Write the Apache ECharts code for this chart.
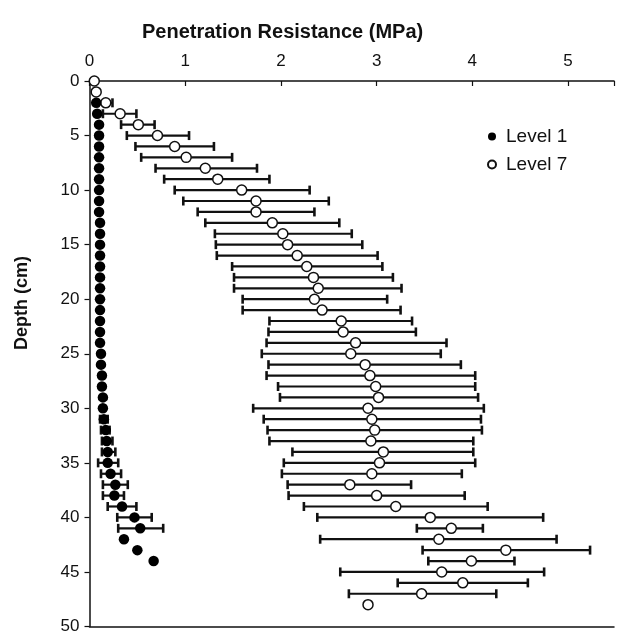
<!DOCTYPE html>
<html>
<head>
<meta charset="utf-8">
<script src="https://cdn.jsdelivr.net/npm/echarts@6/dist/echarts.min.js"></script>
<style>
  html, body { margin: 0; padding: 0; background: #fff; }
  #main { width: 617px; height: 635px; }
</style>
</head>
<body>
<div id="main"></div>
<script>
// depth (cm) of each Level 7 reading
var depth7 = [0,1,2,3,4,5,6,7,8,9,10,11,12,13,14,15,16,17,18,19,20,21,22,23,24,
  25,26,27,28,29,30,31,32,33,34,35,36,37,38,39,40,41,42,43,44,45,46,47,48];
var mean7 = [0.05,0.07,0.17,0.32,0.51,0.71,0.89,1.01,1.21,1.34,1.59,1.74,1.74,1.91,2.02,2.07,2.17,2.27,2.34,2.39,2.35,2.43,2.63,2.65,2.78,
  2.73,2.88,2.93,2.99,3.02,2.91,2.95,2.98,2.94,3.07,3.03,2.95,2.72,3.00,3.20,3.56,3.78,3.65,4.35,3.99,3.68,3.90,3.47,2.91];
var low7 = [null,null,0.09,0.14,0.33,0.39,0.48,0.54,0.69,0.78,0.89,0.98,1.13,1.21,1.31,1.32,1.33,1.49,1.51,1.51,1.60,1.60,1.88,1.87,1.85,
  1.80,1.87,1.85,1.97,1.99,1.71,1.82,1.86,1.88,2.12,2.03,2.01,2.07,2.08,2.24,2.38,3.42,2.41,3.48,3.54,2.62,3.22,2.71,null];
var high7 = [null,null,0.24,0.49,0.68,1.04,1.30,1.49,1.75,1.88,2.30,2.50,2.35,2.61,2.74,2.85,3.01,3.06,3.17,3.26,3.11,3.25,3.37,3.41,3.73,
  3.67,3.88,4.03,4.03,4.06,4.12,4.09,4.10,4.01,4.01,4.03,3.89,3.36,3.92,4.16,4.74,4.11,4.88,5.23,4.44,4.75,4.58,4.25,null];

// Level 1 readings
var depth1 = [2,3,4,5,6,7,8,9,10,11,12,13,14,15,16,17,18,19,20,21,22,23,24,
  25,26,27,28,29,30,31,32,33,34,35,36,37,38,39,40,41,42,43,44];
var mean1 = [0.07,0.08,0.10,0.10,0.10,0.10,0.10,0.10,0.10,0.10,0.10,0.11,0.11,0.11,0.11,0.11,0.11,0.11,0.11,0.11,0.11,0.11,0.11,
  0.12,0.12,0.13,0.13,0.14,0.14,0.15,0.17,0.18,0.19,0.19,0.22,0.27,0.26,0.34,0.47,0.53,0.36,0.50,0.67];
var low1 = [null,null,null,null,null,null,null,null,null,null,null,null,null,null,null,null,null,null,null,null,null,null,null,
  null,null,null,null,null,null,0.11,0.12,0.13,0.13,0.09,0.12,0.14,0.14,0.19,0.29,0.30,null,null,null];
var high1 = [null,null,null,null,null,null,null,null,null,null,null,null,null,null,null,null,null,null,null,null,null,null,null,
  null,null,null,null,null,null,0.19,0.21,0.24,0.27,0.30,0.33,0.40,0.36,0.49,0.65,0.77,null,null,null];

var xTicks = [0, 1, 2, 3, 4, 5];
var yTicks = [0, 5, 10, 15, 20, 25, 30, 35, 40, 45, 50];

var fontName = 'Liberation Sans';

function points(xs, ys) {
    var out = [];
    for (var i = 0; i < xs.length; i++) {
        out.push([xs[i], ys[i]]);
    }
    return out;
}

function bars(depths, lows, highs) {
    var out = [];
    for (var i = 0; i < depths.length; i++) {
        if (lows[i] != null && highs[i] != null) {
            out.push([depths[i], lows[i], highs[i]]);
        }
    }
    return out;
}

// horizontal error bar with a cap at each end
function renderBar(params, api) {
    var d = api.value(0);
    var a = api.coord([api.value(1), d]);
    var b = api.coord([api.value(2), d]);
    var h = 4.5;
    var cap = { stroke: '#111', lineWidth: 2.6 };
    return {
        type: 'group',
        children: [
            { type: 'line', shape: { x1: a[0], y1: a[1], x2: b[0], y2: b[1] }, style: { stroke: '#111', lineWidth: 2.2 } },
            { type: 'line', shape: { x1: a[0], y1: a[1] - h, x2: a[0], y2: a[1] + h }, style: cap },
            { type: 'line', shape: { x1: b[0], y1: b[1] - h, x2: b[0], y2: b[1] + h }, style: cap }
        ]
    };
}

var myChart = echarts.init(document.getElementById('main'));

var option = {
    backgroundColor: '#fff',
    animation: false,
    title: {
        text: 'Penetration Resistance (MPa)',
        left: 137,
        top: 17,
        textStyle: { fontFamily: fontName, fontSize: 20, fontWeight: 'bold', color: '#111' }
    },
    graphic: [{
        type: 'text',
        x: 22,
        y: 303,
        rotation: Math.PI / 2,
        style: {
            text: 'Depth (cm)',
            fill: '#111',
            font: 'bold 18px "Liberation Sans"',
            textAlign: 'center',
            textVerticalAlign: 'middle'
        }
    }],
    legend: {
        orient: 'vertical',
        left: 482,
        top: 122,
        itemWidth: 8,
        itemHeight: 8,
        itemGap: 9,
        textStyle: { fontFamily: fontName, fontSize: 19, color: '#111', padding: [0, 0, 0, 5] },
        data: [
            { name: 'Level 1', icon: 'circle' },
            { name: 'Level 7', icon: 'circle' }
        ]
    },
    grid: { left: 89.5, top: 81, right: 0, bottom: 7 },
    xAxis: [{
        type: 'value',
        position: 'top',
        min: 0,
        max: 5.48,
        interval: 1,
        splitLine: { show: false },
        axisLine: { lineStyle: { color: '#111', width: 1.5 } },
        axisTick: { inside: true, length: 5, lineStyle: { color: '#111', width: 1.2 } },
        axisLabel: {
            margin: 11,
            fontFamily: fontName,
            fontSize: 17,
            color: '#111',
            formatter: function (v) { return xTicks.indexOf(v) >= 0 ? String(v) : ''; }
        }
    }, {
        type: 'value',
        position: 'bottom',
        min: 0,
        max: 5.48,
        splitLine: { show: false },
        axisLine: { lineStyle: { color: '#111', width: 1.5 } },
        axisTick: { show: false },
        axisLabel: { show: false }
    }],
    yAxis: {
        type: 'value',
        inverse: true,
        min: 0,
        max: 50,
        interval: 5,
        splitLine: { show: false },
        axisLine: { lineStyle: { color: '#111', width: 1.5 } },
        axisTick: { length: 5, lineStyle: { color: '#111', width: 1.2 } },
        axisLabel: {
            margin: 10,
            fontFamily: fontName,
            fontSize: 17,
            color: '#111',
            formatter: function (v) { return yTicks.indexOf(v) >= 0 ? String(v) : ''; }
        }
    },
    series: [
        {
            name: 'Level 7 bars',
            type: 'custom',
            renderItem: renderBar,
            encode: { x: [1, 2], y: 0 },
            data: bars(depth7, low7, high7),
            z: 2
        },
        {
            name: 'Level 7',
            type: 'scatter',
            symbol: 'circle',
            symbolSize: 10,
            itemStyle: { color: '#fff', borderColor: '#111', borderWidth: 1.5, opacity: 1 },
            data: points(mean7, depth7),
            z: 3
        },
        {
            name: 'Level 1 bars',
            type: 'custom',
            renderItem: renderBar,
            encode: { x: [1, 2], y: 0 },
            data: bars(depth1, low1, high1),
            z: 4
        },
        {
            name: 'Level 1',
            type: 'scatter',
            symbol: 'circle',
            symbolSize: 10.5,
            itemStyle: { color: '#000', opacity: 1 },
            data: points(mean1, depth1),
            z: 5
        }
    ]
};

myChart.setOption(option);
</script>
</body>
</html>
